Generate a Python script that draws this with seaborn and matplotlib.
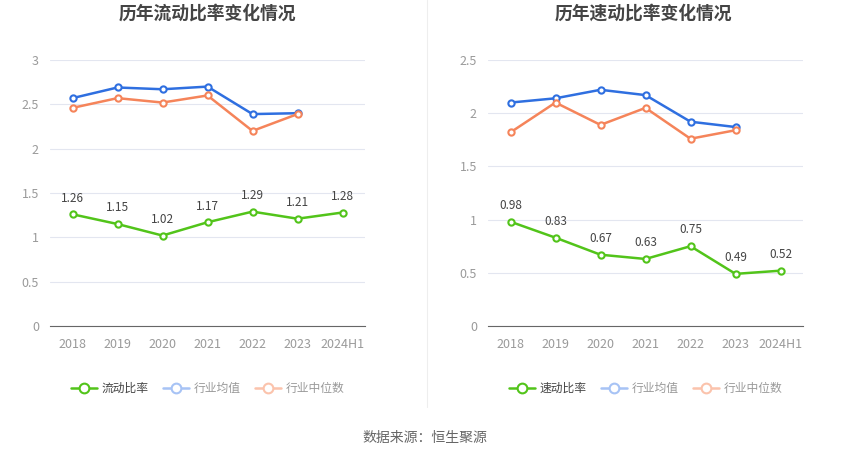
import matplotlib
matplotlib.use("Agg")
import matplotlib.pyplot as plt
import matplotlib.lines as mlines
import pandas as pd
import seaborn as sns

years = ["2018", "2019", "2020", "2021", "2022", "2023", "2024H1"]

# 流动比率
current_ratio = [1.26, 1.15, 1.02, 1.17, 1.29, 1.21, 1.28]
current_avg = [2.57, 2.69, 2.67, 2.70, 2.39, 2.40]
current_median = [2.46, 2.57, 2.52, 2.60, 2.20, 2.39]

# 速动比率
quick_ratio = [0.98, 0.83, 0.67, 0.63, 0.75, 0.49, 0.52]
quick_avg = [2.10, 2.14, 2.22, 2.17, 1.92, 1.87]
quick_median = [1.82, 2.10, 1.89, 2.05, 1.76, 1.84]

GREEN = "#52c41a"
BLUE = "#2f6fe0"
ORANGE = "#f5845a"

sns.set_theme(style="white")
plt.rcParams["font.family"] = ["Noto Sans CJK SC", "DejaVu Sans"]

fig = plt.figure(figsize=(8.5, 4.59), dpi=100)


def draw_panel(ax, main_name, main_vals, avg_vals, med_vals, ymax, yticks, ytick_labels):
    df_main = pd.DataFrame({"year": years, "value": main_vals})
    df_avg = pd.DataFrame({"year": years[: len(avg_vals)], "value": avg_vals})
    df_med = pd.DataFrame({"year": years[: len(med_vals)], "value": med_vals})

    line_kw = dict(marker="o", markersize=4.5, markerfacecolor="white",
                   markeredgewidth=1.5, linewidth=1.8, sort=False)
    sns.lineplot(data=df_avg, x="year", y="value", ax=ax, color=BLUE,
                 markeredgecolor=BLUE, **line_kw)
    sns.lineplot(data=df_med, x="year", y="value", ax=ax, color=ORANGE,
                 markeredgecolor=ORANGE, **line_kw)
    sns.lineplot(data=df_main, x="year", y="value", ax=ax, color=GREEN,
                 markeredgecolor=GREEN, **line_kw)

    for i, v in enumerate(main_vals):
        ax.annotate(f"{v:.2f}", (i, v), xytext=(0, 7), textcoords="offset points",
                    ha="center", va="bottom", fontsize=8.5, color="#444444")

    ax.set_xlim(-0.5, len(years) - 0.5)
    ax.set_ylim(0, ymax)
    ax.set_yticks(yticks)
    ax.set_yticklabels(ytick_labels)
    ax.set_xticks(range(len(years)))
    ax.set_xticklabels(years)
    ax.set_xlabel("")
    ax.set_ylabel("")
    ax.tick_params(axis="both", labelsize=9, colors="#9a9a9a", length=0, pad=8)
    ax.tick_params(axis="x", length=4, color="#666666", direction="out", pad=5)
    ax.grid(axis="y", color="#e3e6f0", linewidth=0.8)
    ax.set_axisbelow(True)
    for side in ["top", "right", "left"]:
        ax.spines[side].set_visible(False)
    ax.spines["bottom"].set_color("#666666")
    ax.spines["bottom"].set_linewidth(0.8)

    handles = [
        mlines.Line2D([], [], color=GREEN, marker="o", markersize=7, markerfacecolor="white",
                      markeredgewidth=1.5, linewidth=1.8),
        mlines.Line2D([], [], color="#a7c3f5", marker="o", markersize=7, markerfacecolor="white",
                      markeredgewidth=1.5, linewidth=1.8),
        mlines.Line2D([], [], color="#fbc3ac", marker="o", markersize=7, markerfacecolor="white",
                      markeredgewidth=1.5, linewidth=1.8),
    ]
    leg = ax.legend(handles, [main_name, "行业均值", "行业中位数"], loc="upper center",
                    bbox_to_anchor=(0.5, -0.17), ncol=3, frameon=False, fontsize=8.5,
                    handlelength=2.2, columnspacing=1.2, handletextpad=0.4)
    colors = ["#444444", "#999999", "#999999"]
    for t, c in zip(leg.get_texts(), colors):
        t.set_color(c)


ax1 = fig.add_axes([50 / 850, 1 - 326 / 459, 315 / 850, 266 / 459])
ax2 = fig.add_axes([488 / 850, 1 - 326 / 459, 315 / 850, 266 / 459])

draw_panel(ax1, "流动比率", current_ratio, current_avg, current_median,
           3, [0, 0.5, 1, 1.5, 2, 2.5, 3], ["0", "0.5", "1", "1.5", "2", "2.5", "3"])
draw_panel(ax2, "速动比率", quick_ratio, quick_avg, quick_median,
           2.5, [0, 0.5, 1, 1.5, 2, 2.5], ["0", "0.5", "1", "1.5", "2", "2.5"])

fig.text(207 / 850, 1 - 14 / 459, "历年流动比率变化情况", ha="center", va="center",
         fontsize=12.8, fontweight="bold", color="#444444")
fig.text(643 / 850, 1 - 14 / 459, "历年速动比率变化情况", ha="center", va="center",
         fontsize=12.8, fontweight="bold", color="#444444")

# divider between panels
fig.add_artist(mlines.Line2D([427 / 850, 427 / 850], [1 - 407 / 459, 1.0],
                             color="#eeeeee", linewidth=0.8))

fig.text(0.5, 1 - 438 / 459, "数据来源：恒生聚源", ha="center", va="center",
         fontsize=10, color="#666666")

fig.savefig("out.png", dpi=100)
